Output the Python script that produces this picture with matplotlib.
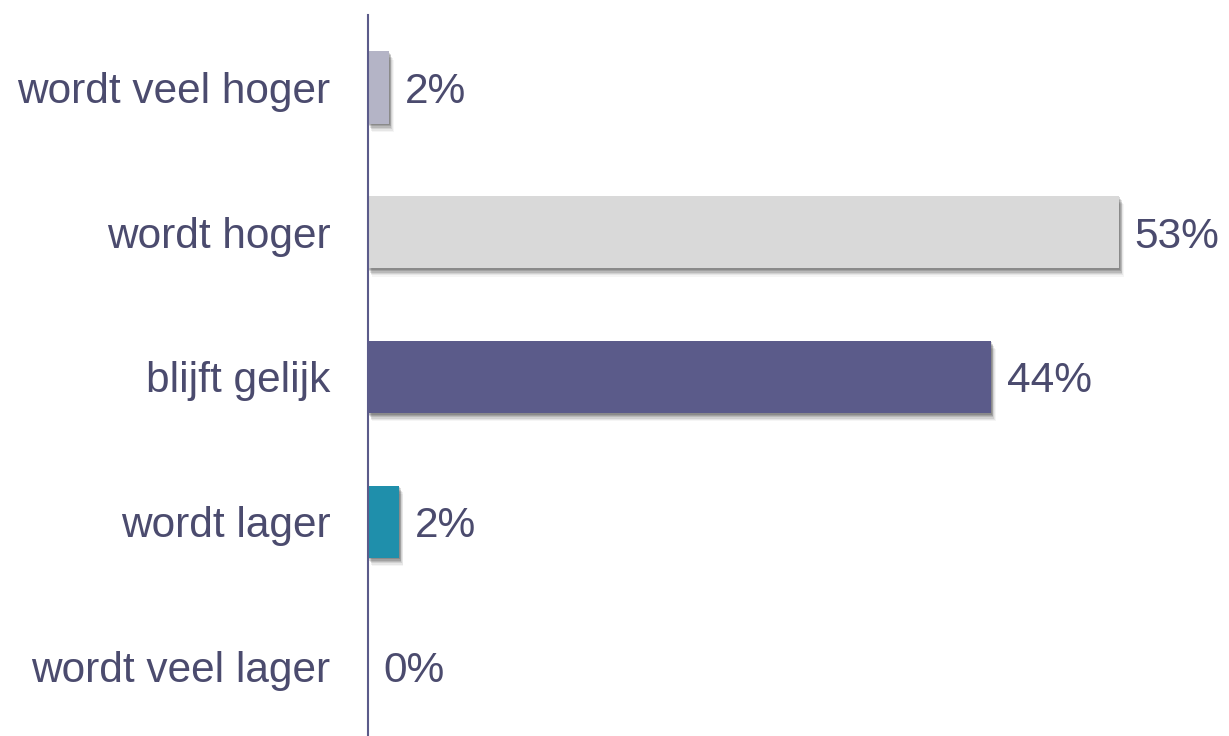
import matplotlib.pyplot as plt
import matplotlib.patheffects as pe

# answer categories, top to bottom, with share of respondents (%)
categories = ["wordt veel hoger", "wordt hoger", "blijft gelijk", "wordt lager", "wordt veel lager"]
values = [1.5, 52.8, 43.8, 2.2, 0.0]
labels = ["2%", "53%", "44%", "2%", "0%"]
colors = ["#b4b4c6", "#d9d9d9", "#5b5b8a", "#1f8fab", "#5b5b8a"]

text_color = "#4b4b6e"
plt.rcParams['font.family'] = ['Liberation Sans', 'DejaVu Sans']

fig = plt.figure(figsize=(12.29, 7.36), dpi=100)
ax = fig.add_axes([368 / 1229, 0, 1 - 368 / 1229, 721 / 736])

pos = list(range(len(categories)))

# soft drop shadow: stacked offset copies to fake a blur
shadow = [pe.SimplePatchShadow(offset=(o * 0.5, -o), shadow_rgbFace="black", alpha=a)
          for o, a in ((1.0, 0.14), (2.0, 0.13), (3.0, 0.11), (4.0, 0.09), (5.0, 0.06), (6.0, 0.04))]
bars = ax.barh(pos, values, height=0.5, color=colors, zorder=2)
for b, v in zip(bars, values):
    if v > 0:
        b.set_path_effects(shadow + [pe.Normal()])

for p, v, lab in zip(pos, values, labels):
    ax.annotate(lab, (v, p), xytext=(11, 0), textcoords="offset points",
                va="center_baseline", ha="left", fontsize=30.5, color=text_color)

ax.set_xlim(0, 60.5)
ax.set_ylim(4.48, -0.5)
ax.set_yticks(pos)
ax.set_yticklabels(categories, fontsize=30.5, color=text_color)
for t in ax.get_yticklabels():
    t.set_verticalalignment("center_baseline")
ax.tick_params(axis="y", length=0, pad=27)
ax.set_xticks([])
for s in ["top", "right", "bottom"]:
    ax.spines[s].set_visible(False)
ax.spines["left"].set_color("#5b5b8a")
ax.spines["left"].set_linewidth(1.5)

fig.savefig("out.png", dpi=100)
